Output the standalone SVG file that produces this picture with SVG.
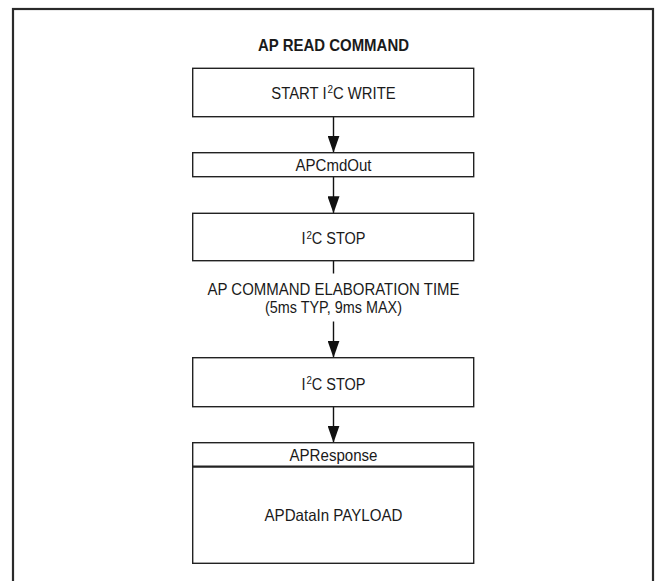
<svg xmlns="http://www.w3.org/2000/svg" width="656" height="581" viewBox="0 0 656 581">
  <defs>
    <marker id="arrow" markerUnits="userSpaceOnUse" markerWidth="17" markerHeight="12" viewBox="0 0 17 12" refX="17" refY="6" orient="auto">
      <path d="M0,0 L17,6 L0,12 z" fill="#111"/>
    </marker>
    <style>
      .box { fill: #fff; stroke: #222; stroke-width: 1.4; }
      .div { stroke: #222; stroke-width: 2.2; }
      .txt { font-family: "Liberation Sans", Arial, sans-serif; font-size: 16.5px; fill: #1a1a1a; text-anchor: middle; }
      .title { font-weight: bold; }
      .sup { font-size: 11px; }
      .conn { stroke: #111; stroke-width: 1.4; fill: none; }
      .frame { fill: none; stroke: #2a2a2a; stroke-width: 2.2; }
    </style>
  </defs>
  <rect width="656" height="581" fill="#fff"/>
  <rect class="frame" x="13" y="9" width="640" height="600"/>

  <text class="txt title" x="333.5" y="50.5" textLength="151" lengthAdjust="spacingAndGlyphs">AP READ COMMAND</text>

  <g id="connectors">
    <line class="conn" x1="333.5" y1="116.7" x2="333.5" y2="152.7" marker-end="url(#arrow)"/>
    <line class="conn" x1="333.5" y1="176.7" x2="333.5" y2="213.3" marker-end="url(#arrow)"/>
    <line class="conn" x1="333.5" y1="260.7" x2="333.5" y2="273.5"/>
    <line class="conn" x1="333.5" y1="321.5" x2="333.5" y2="357.7" marker-end="url(#arrow)"/>
    <line class="conn" x1="333.5" y1="406.7" x2="333.5" y2="442.7" marker-end="url(#arrow)"/>
  </g>

  <g id="start-i2c-write">
    <rect class="box" x="192.7" y="68.3" width="281" height="48.4"/>
    <text class="txt" transform="translate(333.5,98.5) scale(0.9,1)" x="0" y="0">START I<tspan class="sup" dx="1" dy="-5.5">2</tspan><tspan dy="5.5">C WRITE</tspan></text>
  </g>

  <g id="apcmdout">
    <rect class="box" x="192.7" y="152.7" width="281" height="24"/>
    <text class="txt" x="333.5" y="170.5" textLength="76" lengthAdjust="spacingAndGlyphs">APCmdOut</text>
  </g>

  <g id="i2c-stop-1">
    <rect class="box" x="192.7" y="213.3" width="281" height="47.4"/>
    <text class="txt" transform="translate(333.5,244) scale(0.88,1)" x="0" y="0">I<tspan class="sup" dx="1" dy="-5.5">2</tspan><tspan dy="5.5">C STOP</tspan></text>
  </g>

  <g id="elaboration-time">
    <text class="txt" x="333.5" y="294.5" textLength="252" lengthAdjust="spacingAndGlyphs">AP COMMAND ELABORATION TIME</text>
    <text class="txt" x="333.5" y="312.5" textLength="137" lengthAdjust="spacingAndGlyphs">(5ms TYP, 9ms MAX)</text>
  </g>

  <g id="i2c-stop-2">
    <rect class="box" x="192.7" y="357.7" width="281" height="49"/>
    <text class="txt" transform="translate(333.5,389.5) scale(0.88,1)" x="0" y="0">I<tspan class="sup" dx="1" dy="-5.5">2</tspan><tspan dy="5.5">C STOP</tspan></text>
  </g>

  <g id="apresponse">
    <rect class="box" x="192.7" y="442.7" width="281" height="120.6"/>
    <line class="div" x1="192.7" y1="466.7" x2="473.7" y2="466.7"/>
    <text class="txt" x="333.5" y="461" textLength="88" lengthAdjust="spacingAndGlyphs">APResponse</text>
    <text class="txt" x="333.5" y="521" textLength="138" lengthAdjust="spacingAndGlyphs">APDataIn PAYLOAD</text>
  </g>
</svg>
